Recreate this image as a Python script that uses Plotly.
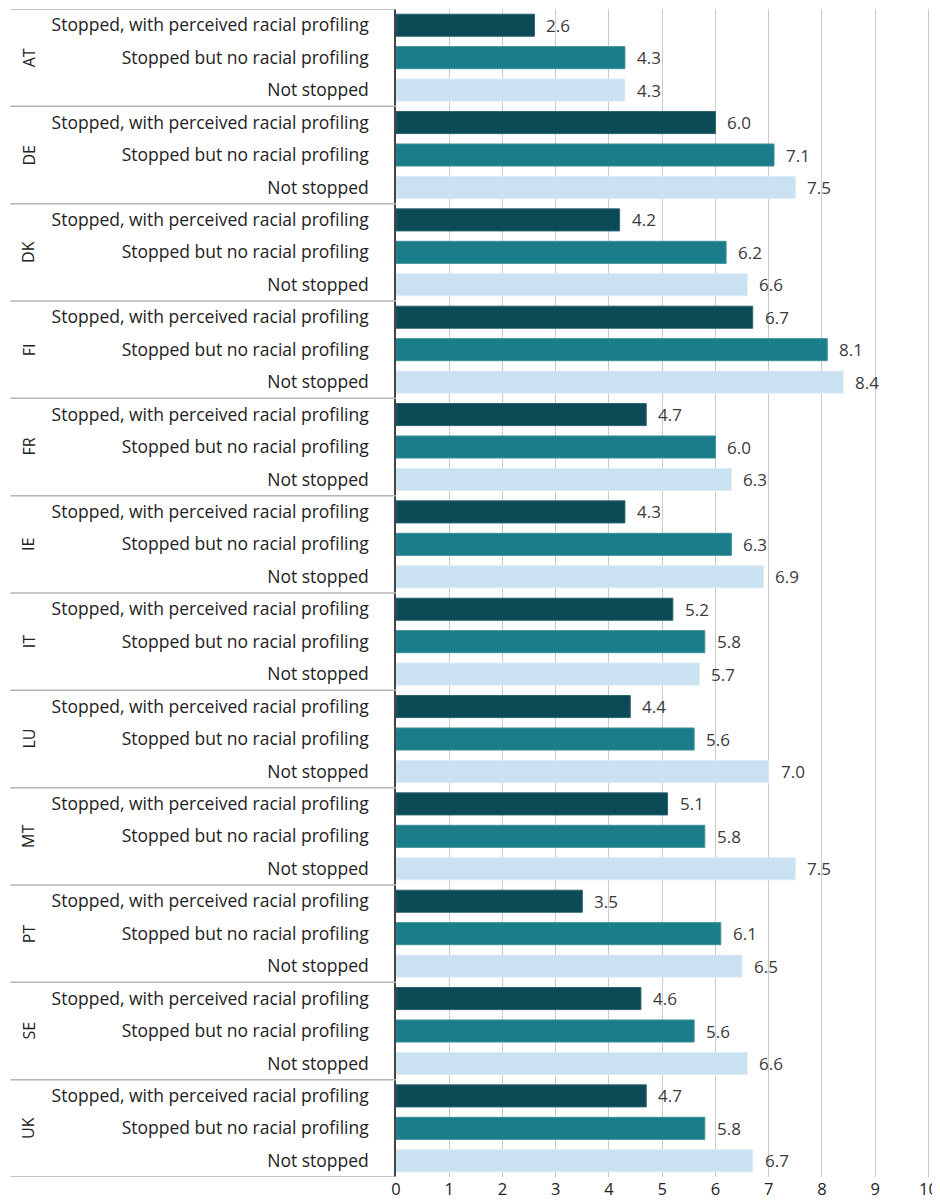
import plotly.graph_objects as go

countries = ["AT", "DE", "DK", "FI", "FR", "IE", "IT", "LU", "MT", "PT", "SE", "UK"]
categories = ["Stopped, with perceived racial profiling", "Stopped but no racial profiling", "Not stopped"]
profiled = [2.6, 6.0, 4.2, 6.7, 4.7, 4.3, 5.2, 4.4, 5.1, 3.5, 4.6, 4.7]
stopped_no_profiling = [4.3, 7.1, 6.2, 8.1, 6.0, 6.3, 5.8, 5.6, 5.8, 6.1, 5.6, 5.8]
not_stopped = [4.3, 7.5, 6.6, 8.4, 6.3, 6.9, 5.7, 7.0, 7.5, 6.5, 6.6, 6.7]
x_ticks = list(range(0, 11))

series = [profiled, stopped_no_profiling, not_stopped]
colors = ["#0b4b56", "#1a7d89", "#c9e1f1"]
line_colors = ["#2b6570", "#3d909b", "#dcecf7"]

FONT = "Open Sans"
fig = go.Figure()
annotations = []
for j, (vals, col, lc) in enumerate(zip(series, colors, line_colors)):
    ys = [i * 3 + j for i in range(len(countries))]
    fig.add_trace(go.Bar(
        x=vals, y=ys, orientation="h", width=0.68,
        marker=dict(color=col, line=dict(color=lc, width=1)),
        name=categories[j], showlegend=False, hoverinfo="x",
    ))
    for v, y in zip(vals, ys):
        annotations.append(dict(
            x=v, y=y, xref="x", yref="y", text=f"{v:.1f}", showarrow=False,
            xanchor="left", yanchor="middle", xshift=10,
            font=dict(family=FONT, size=17, color="#3a3a3a"),
        ))

tickvals, ticktext = [], []
for i, c in enumerate(countries):
    for j, cat in enumerate(categories):
        tickvals.append(i * 3 + j)
        ticktext.append(cat)
    annotations.append(dict(
        x=-0.688, y=i * 3 + 1, xref="paper", yref="y", text=c, showarrow=False,
        textangle=-90, xanchor="center", yanchor="middle",
        font=dict(family=FONT, size=16, color="#222222"),
    ))

shapes = []
for i in range(len(countries) + 1):
    shapes.append(dict(
        type="line", xref="paper", yref="y", x0=-0.722, x1=0,
        y0=i * 3 - 0.5, y1=i * 3 - 0.5,
        line=dict(color="#b5b5b5", width=1.5),
    ))

fig.update_layout(
    width=932, height=1195,
    margin=dict(l=388, r=10, t=1, b=26, autoexpand=False),
    plot_bgcolor="white", paper_bgcolor="white",
    barmode="overlay",
    annotations=annotations, shapes=shapes,
    font=dict(family=FONT, size=17, color="#222222"),
    xaxis=dict(
        range=[0, 10.03], tickvals=x_ticks, ticktext=[str(t) for t in x_ticks],
        showgrid=True, gridcolor="#cbcbcb", gridwidth=1.2,
        zeroline=False, showline=False, ticks="", automargin=False,
        ticklabeloverflow="allow",
        tickfont=dict(family=FONT, size=16.5, color="#222222"),
    ),
    yaxis=dict(
        range=[35.5, -0.5], tickvals=tickvals, ticktext=ticktext,
        showgrid=False, zeroline=False, showline=True, linecolor="#444444", linewidth=1.5,
        ticks="", ticklabelstandoff=22, automargin=False,
        tickfont=dict(family=FONT, size=17.5, color="#222222"),
    ),
)

fig.write_html("out.html")
